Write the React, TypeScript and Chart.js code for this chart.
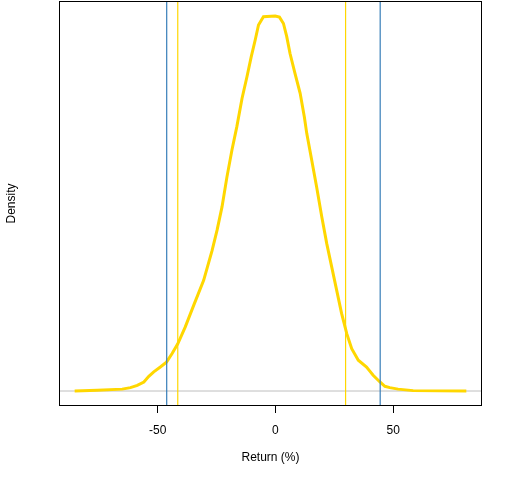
import React, { useEffect, useRef } from "react";
import { Chart, registerables } from "chart.js";
Chart.register(...registerables);

// Return (%) grid of the density curve
const returnPct = [
  -85.3, -75.7, -65.1, -61.6, -58.7, -55.9, -53.8, -51.7, -48.9, -46.3, -43.9,
  -41.5, -38.3, -34.7, -30.5, -26.9, -24.8, -22.7, -20.6, -18.5, -16.4, -14.2,
  -12.1, -10.3, -8.6, -7.2, -5.1, -0.1, 1.7, 3.4, 4.8, 6.2, 8.3, 10.5, 12.3,
  13.3, 15.4, 17.5, 19.7, 21.8, 23.9, 26.0, 28.1, 30.3, 32.4, 35.2, 38.7, 40.1,
  41.5, 44.4, 46.5, 48.6, 52.1, 58.5, 81.1,
];
// relative density (peak = 1)
const density = [
  0, 0.002, 0.005, 0.009, 0.015, 0.024, 0.039, 0.051, 0.064, 0.077, 0.1, 0.126,
  0.171, 0.229, 0.295, 0.375, 0.429, 0.491, 0.571, 0.642, 0.705, 0.78, 0.838,
  0.891, 0.936, 0.976, 0.998, 1.0, 0.997, 0.98, 0.945, 0.9, 0.847, 0.794, 0.73,
  0.687, 0.616, 0.544, 0.464, 0.393, 0.331, 0.269, 0.207, 0.153, 0.113, 0.082,
  0.064, 0.053, 0.042, 0.024, 0.0125, 0.009, 0.005, 0.001, 0,
];
// vertical reference lines
const outerLines = [-46.2, 44.5];
const innerLines = [-41.5, 29.8];
const xTicks = [-50, 0, 50];

const CURVE = "#FFD700";
const BLUE = "#377EB8";
const GRAY = "#BEBEBE";
const FONT = "'Liberation Sans', Arial, sans-serif";

export default function App() {
  const ref = useRef<HTMLCanvasElement | null>(null);

  useEffect(() => {
    if (!ref.current) return;
    const xMinD = Math.min(...returnPct);
    const xMaxD = Math.max(...returnPct);
    const xr = xMaxD - xMinD;
    const xMin = xMinD - 0.04 * xr;
    const xMax = xMaxD + 0.04 * xr;
    const yMaxD = Math.max(...density);
    const yMin = -0.04 * yMaxD;
    const yMax = yMaxD * 1.04;

    const vline = (v: number, color: string) => ({
      data: [
        { x: v, y: yMin },
        { x: v, y: yMax },
      ],
      borderColor: color,
      borderWidth: 1.2,
      pointRadius: 0,
      order: 0,
    });

    const boxPlugin = {
      id: "box",
      afterDraw(chart: any) {
        const { ctx, chartArea: a } = chart;
        ctx.save();
        ctx.strokeStyle = "#000";
        ctx.lineWidth = 1;
        ctx.strokeRect(a.left + 0.5, a.top + 0.5, a.right - a.left - 1, a.bottom - a.top - 1);
        ctx.restore();
      },
    };

    const chart = new Chart(ref.current, {
      type: "line",
      data: {
        datasets: [
          ...outerLines.map((v) => vline(v, BLUE)),
          ...innerLines.map((v) => vline(v, CURVE)),
          {
            data: returnPct.map((x, i) => ({ x, y: density[i] })),
            borderColor: CURVE,
            borderWidth: 3,
            pointRadius: 0,
            tension: 0,
            order: 1,
          },
          {
            data: [
              { x: xMin, y: 0 },
              { x: xMax, y: 0 },
            ],
            borderColor: GRAY,
            borderWidth: 1,
            pointRadius: 0,
            order: 2,
          },
        ],
      },
      options: {
        animation: false,
        responsive: false,
        devicePixelRatio: 1,
        layout: { padding: { top: 1, right: 30, bottom: 0, left: 0 } },
        plugins: { legend: { display: false }, tooltip: { enabled: false } },
        scales: {
          x: {
            type: "linear",
            min: xMin,
            max: xMax,
            afterBuildTicks: (s: any) => {
              s.ticks = xTicks.map((v) => ({ value: v }));
            },
            afterFit: (s: any) => {
              s.height = 74;
            },
            grid: {
              drawOnChartArea: false,
              drawTicks: true,
              tickLength: 7,
              color: "#000",
            },
            border: { display: false },
            ticks: {
              color: "#000",
              padding: 10,
              maxRotation: 0,
              font: { family: FONT, size: 12 },
            },
            title: {
              display: true,
              text: "Return (%)",
              color: "#000",
              font: { family: FONT, size: 12 },
              padding: { top: 0, bottom: 15 },
            },
          },
          y: {
            type: "linear",
            min: yMin,
            max: yMax,
            afterFit: (s: any) => {
              s.width = 59;
            },
            grid: { display: false },
            border: { display: false },
            ticks: { display: false },
            title: {
              display: true,
              text: "Density",
              color: "#000",
              font: { family: FONT, size: 12 },
              padding: { top: 4, bottom: 0 },
            },
          },
        },
      },
      plugins: [boxPlugin],
    } as any);
    return () => chart.destroy();
  }, []);

  return (
    <div style={{ position: "absolute", left: 0, top: 0, width: 512, height: 480, background: "#fff" }}>
      <canvas ref={ref} width={512} height={480} />
    </div>
  );
}
